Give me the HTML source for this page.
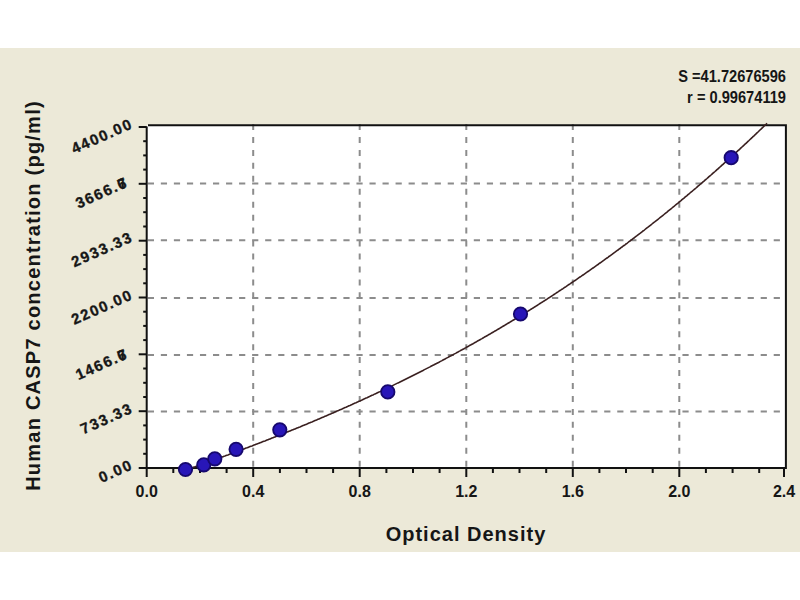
<!DOCTYPE html>
<html><head><meta charset="utf-8"><style>
html,body{margin:0;padding:0;background:#fff;}
svg{display:block;}
text{font-family:"Liberation Sans",sans-serif;fill:#161616;}
.tk{font-size:16px;font-weight:bold;}
.ttl{font-size:20px;font-weight:bold;letter-spacing:1px;}
.yt{font-size:20px;font-weight:bold;letter-spacing:1.23px;}
.yl{letter-spacing:1.6px;font-size:15px;stroke:#161616;stroke-width:0.35px;}
.st{font-size:16px;font-weight:bold;}
</style></head><body>
<svg width="800" height="600" viewBox="0 0 800 600">
<rect x="0" y="48" width="800" height="504" fill="#ECE9D8"/>
<rect x="147" y="125" width="639" height="343" fill="#FFFFFF"/>
<line x1="147.8" y1="183.5" x2="785" y2="183.5" stroke="#8c8c8c" stroke-width="2" stroke-dasharray="6.2 6.84"/>
<line x1="147.8" y1="240.3" x2="785" y2="240.3" stroke="#8c8c8c" stroke-width="2" stroke-dasharray="6.2 6.84"/>
<line x1="147.8" y1="298.0" x2="785" y2="298.0" stroke="#8c8c8c" stroke-width="2" stroke-dasharray="6.2 6.84"/>
<line x1="147.8" y1="355.0" x2="785" y2="355.0" stroke="#8c8c8c" stroke-width="2" stroke-dasharray="6.2 6.84"/>
<line x1="147.8" y1="411.5" x2="785" y2="411.5" stroke="#8c8c8c" stroke-width="2" stroke-dasharray="6.2 6.84"/>
<line x1="253.2" y1="124" x2="253.2" y2="467" stroke="#8c8c8c" stroke-width="2" stroke-dasharray="6 6.95"/>
<line x1="359.7" y1="124" x2="359.7" y2="467" stroke="#8c8c8c" stroke-width="2" stroke-dasharray="6 6.95"/>
<line x1="466.3" y1="124" x2="466.3" y2="467" stroke="#8c8c8c" stroke-width="2" stroke-dasharray="6 6.95"/>
<line x1="572.8" y1="124" x2="572.8" y2="467" stroke="#8c8c8c" stroke-width="2" stroke-dasharray="6 6.95"/>
<line x1="679.3" y1="124" x2="679.3" y2="467" stroke="#8c8c8c" stroke-width="2" stroke-dasharray="6 6.95"/>
<path d="M148,125.2 H785.9 V468 H146.7 V126.5" fill="none" stroke="#111" stroke-width="2"/>
<line x1="138.7" y1="127.0" x2="146.7" y2="127.0" stroke="#111" stroke-width="2"/>
<line x1="143.2" y1="141.2" x2="146.7" y2="141.2" stroke="#111" stroke-width="2"/>
<line x1="143.2" y1="155.4" x2="146.7" y2="155.4" stroke="#111" stroke-width="2"/>
<line x1="143.2" y1="169.6" x2="146.7" y2="169.6" stroke="#111" stroke-width="2"/>
<line x1="138.7" y1="183.8" x2="146.7" y2="183.8" stroke="#111" stroke-width="2"/>
<line x1="143.2" y1="198.0" x2="146.7" y2="198.0" stroke="#111" stroke-width="2"/>
<line x1="143.2" y1="212.2" x2="146.7" y2="212.2" stroke="#111" stroke-width="2"/>
<line x1="143.2" y1="226.5" x2="146.7" y2="226.5" stroke="#111" stroke-width="2"/>
<line x1="138.7" y1="240.7" x2="146.7" y2="240.7" stroke="#111" stroke-width="2"/>
<line x1="143.2" y1="254.9" x2="146.7" y2="254.9" stroke="#111" stroke-width="2"/>
<line x1="143.2" y1="269.1" x2="146.7" y2="269.1" stroke="#111" stroke-width="2"/>
<line x1="143.2" y1="283.3" x2="146.7" y2="283.3" stroke="#111" stroke-width="2"/>
<line x1="138.7" y1="297.5" x2="146.7" y2="297.5" stroke="#111" stroke-width="2"/>
<line x1="143.2" y1="311.7" x2="146.7" y2="311.7" stroke="#111" stroke-width="2"/>
<line x1="143.2" y1="325.9" x2="146.7" y2="325.9" stroke="#111" stroke-width="2"/>
<line x1="143.2" y1="340.1" x2="146.7" y2="340.1" stroke="#111" stroke-width="2"/>
<line x1="138.7" y1="354.3" x2="146.7" y2="354.3" stroke="#111" stroke-width="2"/>
<line x1="143.2" y1="368.5" x2="146.7" y2="368.5" stroke="#111" stroke-width="2"/>
<line x1="143.2" y1="382.8" x2="146.7" y2="382.8" stroke="#111" stroke-width="2"/>
<line x1="143.2" y1="397.0" x2="146.7" y2="397.0" stroke="#111" stroke-width="2"/>
<line x1="138.7" y1="411.2" x2="146.7" y2="411.2" stroke="#111" stroke-width="2"/>
<line x1="143.2" y1="425.4" x2="146.7" y2="425.4" stroke="#111" stroke-width="2"/>
<line x1="143.2" y1="439.6" x2="146.7" y2="439.6" stroke="#111" stroke-width="2"/>
<line x1="143.2" y1="453.8" x2="146.7" y2="453.8" stroke="#111" stroke-width="2"/>
<line x1="138.7" y1="468.0" x2="146.7" y2="468.0" stroke="#111" stroke-width="2"/>
<line x1="146.7" y1="468" x2="146.7" y2="477" stroke="#111" stroke-width="2"/>
<line x1="173.3" y1="468" x2="173.3" y2="473" stroke="#111" stroke-width="2"/>
<line x1="200.0" y1="468" x2="200.0" y2="473" stroke="#111" stroke-width="2"/>
<line x1="226.6" y1="468" x2="226.6" y2="473" stroke="#111" stroke-width="2"/>
<line x1="253.2" y1="468" x2="253.2" y2="477" stroke="#111" stroke-width="2"/>
<line x1="279.9" y1="468" x2="279.9" y2="473" stroke="#111" stroke-width="2"/>
<line x1="306.5" y1="468" x2="306.5" y2="473" stroke="#111" stroke-width="2"/>
<line x1="333.1" y1="468" x2="333.1" y2="473" stroke="#111" stroke-width="2"/>
<line x1="359.7" y1="468" x2="359.7" y2="477" stroke="#111" stroke-width="2"/>
<line x1="386.4" y1="468" x2="386.4" y2="473" stroke="#111" stroke-width="2"/>
<line x1="413.0" y1="468" x2="413.0" y2="473" stroke="#111" stroke-width="2"/>
<line x1="439.6" y1="468" x2="439.6" y2="473" stroke="#111" stroke-width="2"/>
<line x1="466.3" y1="468" x2="466.3" y2="477" stroke="#111" stroke-width="2"/>
<line x1="492.9" y1="468" x2="492.9" y2="473" stroke="#111" stroke-width="2"/>
<line x1="519.5" y1="468" x2="519.5" y2="473" stroke="#111" stroke-width="2"/>
<line x1="546.2" y1="468" x2="546.2" y2="473" stroke="#111" stroke-width="2"/>
<line x1="572.8" y1="468" x2="572.8" y2="477" stroke="#111" stroke-width="2"/>
<line x1="599.4" y1="468" x2="599.4" y2="473" stroke="#111" stroke-width="2"/>
<line x1="626.0" y1="468" x2="626.0" y2="473" stroke="#111" stroke-width="2"/>
<line x1="652.7" y1="468" x2="652.7" y2="473" stroke="#111" stroke-width="2"/>
<line x1="679.3" y1="468" x2="679.3" y2="477" stroke="#111" stroke-width="2"/>
<line x1="705.9" y1="468" x2="705.9" y2="473" stroke="#111" stroke-width="2"/>
<line x1="732.6" y1="468" x2="732.6" y2="473" stroke="#111" stroke-width="2"/>
<line x1="759.2" y1="468" x2="759.2" y2="473" stroke="#111" stroke-width="2"/>
<line x1="784.0" y1="468" x2="784.0" y2="477" stroke="#111" stroke-width="2"/>
<line x1="139" y1="468" x2="146" y2="468" stroke="#111" stroke-width="2"/>
<polyline points="184.0,470.6 185.0,470.3 186.0,469.9 187.0,469.6 188.0,469.2 189.0,468.9 190.0,468.5 191.0,468.2 192.0,467.8 193.0,467.5 194.0,467.1 195.0,466.8 196.0,466.4 197.0,466.0 198.0,465.7 199.0,465.3 200.0,465.0 201.0,464.6 202.0,464.3 203.0,463.9 204.0,463.6 205.0,463.2 206.0,462.8 207.0,462.5 208.0,462.1 209.0,461.8 210.0,461.4 211.0,461.0 212.0,460.7 213.0,460.3 214.0,460.0 215.0,459.6 216.0,459.2 217.0,458.9 218.0,458.5 219.0,458.2 220.0,457.8 221.0,457.4 222.0,457.1 223.0,456.7 224.0,456.3 225.0,456.0 226.0,455.6 227.0,455.2 228.0,454.9 229.0,454.5 230.0,454.1 231.0,453.7 232.0,453.4 233.0,453.0 234.0,452.6 235.0,452.3 236.0,451.9 237.0,451.5 238.0,451.1 239.0,450.8 240.0,450.4 241.0,450.0 242.0,449.6 243.0,449.3 244.0,448.9 245.0,448.5 246.0,448.1 247.0,447.8 248.0,447.4 249.0,447.0 250.0,446.6 251.0,446.2 252.0,445.9 253.0,445.5 254.0,445.1 255.0,444.7 256.0,444.3 257.0,443.9 258.0,443.6 259.0,443.2 260.0,442.8 261.0,442.4 262.0,442.0 263.0,441.6 264.0,441.2 265.0,440.9 266.0,440.5 267.0,440.1 268.0,439.7 269.0,439.3 270.0,438.9 271.0,438.5 272.0,438.1 273.0,437.7 274.0,437.3 275.0,436.9 276.0,436.5 277.0,436.1 278.0,435.7 279.0,435.3 280.0,434.9 281.0,434.5 282.0,434.1 283.0,433.7 284.0,433.3 285.0,432.9 286.0,432.5 287.0,432.1 288.0,431.7 289.0,431.3 290.0,430.9 291.0,430.5 292.0,430.1 293.0,429.7 294.0,429.3 295.0,428.9 296.0,428.5 297.0,428.1 298.0,427.7 299.0,427.3 300.0,426.9 301.0,426.4 302.0,426.0 303.0,425.6 304.0,425.2 305.0,424.8 306.0,424.4 307.0,424.0 308.0,423.5 309.0,423.1 310.0,422.7 311.0,422.3 312.0,421.9 313.0,421.4 314.0,421.0 315.0,420.6 316.0,420.2 317.0,419.8 318.0,419.3 319.0,418.9 320.0,418.5 321.0,418.1 322.0,417.6 323.0,417.2 324.0,416.8 325.0,416.3 326.0,415.9 327.0,415.5 328.0,415.1 329.0,414.6 330.0,414.2 331.0,413.8 332.0,413.3 333.0,412.9 334.0,412.5 335.0,412.0 336.0,411.6 337.0,411.1 338.0,410.7 339.0,410.3 340.0,409.8 341.0,409.4 342.0,409.0 343.0,408.5 344.0,408.1 345.0,407.6 346.0,407.2 347.0,406.7 348.0,406.3 349.0,405.8 350.0,405.4 351.0,404.9 352.0,404.5 353.0,404.0 354.0,403.6 355.0,403.1 356.0,402.7 357.0,402.2 358.0,401.8 359.0,401.3 360.0,400.9 361.0,400.4 362.0,400.0 363.0,399.5 364.0,399.0 365.0,398.6 366.0,398.1 367.0,397.7 368.0,397.2 369.0,396.7 370.0,396.3 371.0,395.8 372.0,395.3 373.0,394.9 374.0,394.4 375.0,393.9 376.0,393.5 377.0,393.0 378.0,392.5 379.0,392.1 380.0,391.6 381.0,391.1 382.0,390.6 383.0,390.2 384.0,389.7 385.0,389.2 386.0,388.7 387.0,388.3 388.0,387.8 389.0,387.3 390.0,386.8 391.0,386.3 392.0,385.9 393.0,385.4 394.0,384.9 395.0,384.4 396.0,383.9 397.0,383.4 398.0,382.9 399.0,382.5 400.0,382.0 401.0,381.5 402.0,381.0 403.0,380.5 404.0,380.0 405.0,379.5 406.0,379.0 407.0,378.5 408.0,378.0 409.0,377.5 410.0,377.0 411.0,376.5 412.0,376.0 413.0,375.5 414.0,375.0 415.0,374.5 416.0,374.0 417.0,373.5 418.0,373.0 419.0,372.5 420.0,372.0 421.0,371.5 422.0,371.0 423.0,370.5 424.0,369.9 425.0,369.4 426.0,368.9 427.0,368.4 428.0,367.9 429.0,367.4 430.0,366.9 431.0,366.3 432.0,365.8 433.0,365.3 434.0,364.8 435.0,364.2 436.0,363.7 437.0,363.2 438.0,362.7 439.0,362.2 440.0,361.6 441.0,361.1 442.0,360.6 443.0,360.0 444.0,359.5 445.0,359.0 446.0,358.4 447.0,357.9 448.0,357.4 449.0,356.8 450.0,356.3 451.0,355.8 452.0,355.2 453.0,354.7 454.0,354.1 455.0,353.6 456.0,353.1 457.0,352.5 458.0,352.0 459.0,351.4 460.0,350.9 461.0,350.3 462.0,349.8 463.0,349.2 464.0,348.7 465.0,348.1 466.0,347.6 467.0,347.0 468.0,346.5 469.0,345.9 470.0,345.3 471.0,344.8 472.0,344.2 473.0,343.7 474.0,343.1 475.0,342.5 476.0,342.0 477.0,341.4 478.0,340.8 479.0,340.3 480.0,339.7 481.0,339.1 482.0,338.6 483.0,338.0 484.0,337.4 485.0,336.8 486.0,336.3 487.0,335.7 488.0,335.1 489.0,334.5 490.0,334.0 491.0,333.4 492.0,332.8 493.0,332.2 494.0,331.6 495.0,331.0 496.0,330.5 497.0,329.9 498.0,329.3 499.0,328.7 500.0,328.1 501.0,327.5 502.0,326.9 503.0,326.3 504.0,325.7 505.0,325.1 506.0,324.5 507.0,323.9 508.0,323.3 509.0,322.7 510.0,322.1 511.0,321.5 512.0,320.9 513.0,320.3 514.0,319.7 515.0,319.1 516.0,318.5 517.0,317.9 518.0,317.3 519.0,316.7 520.0,316.1 521.0,315.4 522.0,314.8 523.0,314.2 524.0,313.6 525.0,313.0 526.0,312.4 527.0,311.7 528.0,311.1 529.0,310.5 530.0,309.9 531.0,309.2 532.0,308.6 533.0,308.0 534.0,307.3 535.0,306.7 536.0,306.1 537.0,305.5 538.0,304.8 539.0,304.2 540.0,303.5 541.0,302.9 542.0,302.3 543.0,301.6 544.0,301.0 545.0,300.3 546.0,299.7 547.0,299.1 548.0,298.4 549.0,297.8 550.0,297.1 551.0,296.5 552.0,295.8 553.0,295.2 554.0,294.5 555.0,293.8 556.0,293.2 557.0,292.5 558.0,291.9 559.0,291.2 560.0,290.5 561.0,289.9 562.0,289.2 563.0,288.6 564.0,287.9 565.0,287.2 566.0,286.6 567.0,285.9 568.0,285.2 569.0,284.5 570.0,283.9 571.0,283.2 572.0,282.5 573.0,281.8 574.0,281.2 575.0,280.5 576.0,279.8 577.0,279.1 578.0,278.4 579.0,277.7 580.0,277.0 581.0,276.4 582.0,275.7 583.0,275.0 584.0,274.3 585.0,273.6 586.0,272.9 587.0,272.2 588.0,271.5 589.0,270.8 590.0,270.1 591.0,269.4 592.0,268.7 593.0,268.0 594.0,267.3 595.0,266.6 596.0,265.9 597.0,265.2 598.0,264.5 599.0,263.7 600.0,263.0 601.0,262.3 602.0,261.6 603.0,260.9 604.0,260.2 605.0,259.4 606.0,258.7 607.0,258.0 608.0,257.3 609.0,256.5 610.0,255.8 611.0,255.1 612.0,254.4 613.0,253.6 614.0,252.9 615.0,252.2 616.0,251.4 617.0,250.7 618.0,250.0 619.0,249.2 620.0,248.5 621.0,247.7 622.0,247.0 623.0,246.2 624.0,245.5 625.0,244.8 626.0,244.0 627.0,243.3 628.0,242.5 629.0,241.7 630.0,241.0 631.0,240.2 632.0,239.5 633.0,238.7 634.0,238.0 635.0,237.2 636.0,236.4 637.0,235.7 638.0,234.9 639.0,234.1 640.0,233.4 641.0,232.6 642.0,231.8 643.0,231.0 644.0,230.3 645.0,229.5 646.0,228.7 647.0,227.9 648.0,227.2 649.0,226.4 650.0,225.6 651.0,224.8 652.0,224.0 653.0,223.2 654.0,222.4 655.0,221.7 656.0,220.9 657.0,220.1 658.0,219.3 659.0,218.5 660.0,217.7 661.0,216.9 662.0,216.1 663.0,215.3 664.0,214.5 665.0,213.7 666.0,212.9 667.0,212.1 668.0,211.2 669.0,210.4 670.0,209.6 671.0,208.8 672.0,208.0 673.0,207.2 674.0,206.4 675.0,205.5 676.0,204.7 677.0,203.9 678.0,203.1 679.0,202.2 680.0,201.4 681.0,200.6 682.0,199.7 683.0,198.9 684.0,198.1 685.0,197.2 686.0,196.4 687.0,195.6 688.0,194.7 689.0,193.9 690.0,193.0 691.0,192.2 692.0,191.4 693.0,190.5 694.0,189.7 695.0,188.8 696.0,188.0 697.0,187.1 698.0,186.2 699.0,185.4 700.0,184.5 701.0,183.7 702.0,182.8 703.0,181.9 704.0,181.1 705.0,180.2 706.0,179.3 707.0,178.5 708.0,177.6 709.0,176.7 710.0,175.8 711.0,175.0 712.0,174.1 713.0,173.2 714.0,172.3 715.0,171.5 716.0,170.6 717.0,169.7 718.0,168.8 719.0,167.9 720.0,167.0 721.0,166.1 722.0,165.2 723.0,164.3 724.0,163.4 725.0,162.5 726.0,161.6 727.0,160.7 728.0,159.8 729.0,158.9 730.0,158.0 731.0,157.1 732.0,156.2 733.0,155.3 734.0,154.4 735.0,153.5 736.0,152.5 737.0,151.6 738.0,150.7 739.0,149.8 740.0,148.9 741.0,147.9 742.0,147.0 743.0,146.1 744.0,145.2 745.0,144.2 746.0,143.3 747.0,142.4 748.0,141.4 749.0,140.5 750.0,139.5 751.0,138.6 752.0,137.7 753.0,136.7 754.0,135.8 755.0,134.8 756.0,133.9 757.0,132.9 758.0,132.0 759.0,131.0 760.0,130.0 761.0,129.1 762.0,128.1 763.0,127.2 764.0,126.2 765.0,125.2 766.0,124.3 767.0,123.3" fill="none" stroke="#3a2020" stroke-width="1.6"/>
<circle cx="185.5" cy="469.5" r="6.7" fill="#2816b8" stroke="#16086e" stroke-width="1.8"/>
<circle cx="203.8" cy="464.8" r="6.7" fill="#2816b8" stroke="#16086e" stroke-width="1.8"/>
<circle cx="214.8" cy="458.8" r="6.7" fill="#2816b8" stroke="#16086e" stroke-width="1.8"/>
<circle cx="236.1" cy="449.3" r="6.7" fill="#2816b8" stroke="#16086e" stroke-width="1.8"/>
<circle cx="279.8" cy="429.8" r="6.7" fill="#2816b8" stroke="#16086e" stroke-width="1.8"/>
<circle cx="387.8" cy="391.9" r="6.7" fill="#2816b8" stroke="#16086e" stroke-width="1.8"/>
<circle cx="520.5" cy="314" r="6.7" fill="#2816b8" stroke="#16086e" stroke-width="1.8"/>
<circle cx="731.2" cy="157.7" r="6.7" fill="#2816b8" stroke="#16086e" stroke-width="1.8"/>
<text x="146.7" y="497" class="tk" text-anchor="middle">0.0</text>
<text x="253.2" y="497" class="tk" text-anchor="middle">0.4</text>
<text x="359.7" y="497" class="tk" text-anchor="middle">0.8</text>
<text x="466.3" y="497" class="tk" text-anchor="middle">1.2</text>
<text x="572.8" y="497" class="tk" text-anchor="middle">1.6</text>
<text x="679.3" y="497" class="tk" text-anchor="middle">2.0</text>
<text x="784.0" y="497" class="tk" text-anchor="middle">2.4</text>
<text transform="translate(134,127.5) rotate(-24)" class="tk yl" text-anchor="end">4400.00</text>
<text transform="translate(129.5,186.0) rotate(-24)" class="tk yl" text-anchor="end">3666.6<tspan dx="-9.5">7</tspan></text>
<text transform="translate(134,240.8) rotate(-24)" class="tk yl" text-anchor="end">2933.33</text>
<text transform="translate(134,298.5) rotate(-24)" class="tk yl" text-anchor="end">2200.00</text>
<text transform="translate(129.5,357.5) rotate(-24)" class="tk yl" text-anchor="end">1466.6<tspan dx="-9.5">7</tspan></text>
<text transform="translate(134,412.0) rotate(-24)" class="tk yl" text-anchor="end">733.33</text>
<text transform="translate(134,468.5) rotate(-24)" class="tk yl" text-anchor="end">0.00</text>
<text x="466" y="541" class="ttl" text-anchor="middle">Optical Density</text>
<text transform="translate(39.5,295.5) rotate(-90)" class="yt" text-anchor="middle">Human CASP7 concentration (pg/ml)</text>
<text transform="translate(786,82) scale(0.915,1)" class="st" text-anchor="end">S =41.72676596</text>
<text transform="translate(786,103) scale(0.915,1)" class="st" text-anchor="end">r = 0.99674119</text>
</svg></body></html>
